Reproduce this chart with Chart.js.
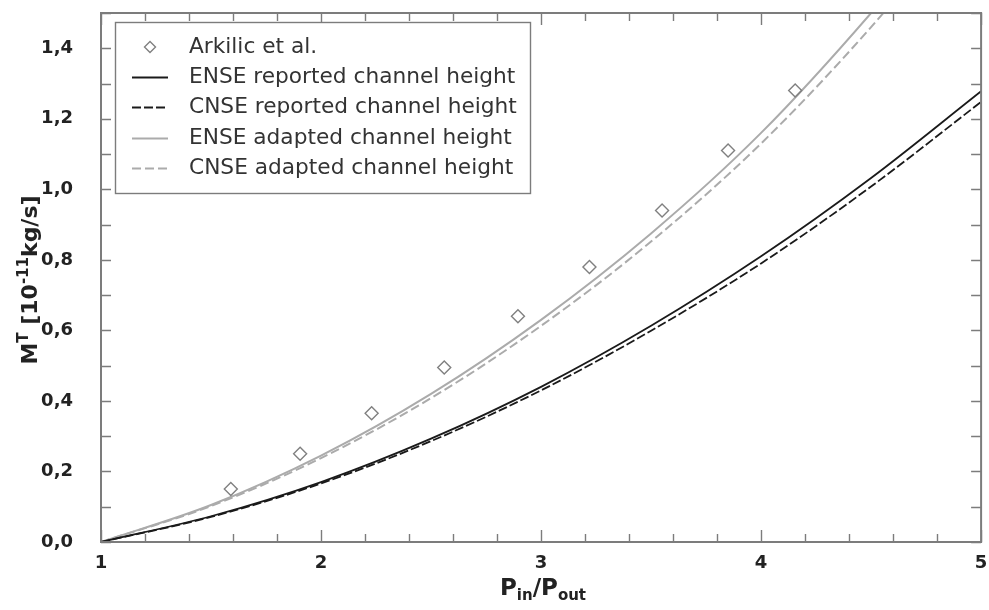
<!DOCTYPE html>
<html>
<head>
<meta charset="utf-8">
<script src="https://cdn.jsdelivr.net/npm/chart.js@4.4.0/dist/chart.umd.min.js"></script>
<style>
  html, body { margin: 0; padding: 0; background: #fff; }
</style>
</head>
<body>
<canvas id="chart" width="989" height="610"></canvas>
<script>
// measured points (Arkilic et al.)
const arkX = [1.59, 1.905, 2.23, 2.56, 2.895, 3.22, 3.55, 3.85, 4.155];
const arkY = [0.15, 0.25, 0.365, 0.495, 0.64, 0.78, 0.94, 1.11, 1.28];

// simulated curves, read off at P_in/P_out
const curveX = [1, 1.5, 2, 2.5, 3, 3.5, 4, 4.5, 5];
const enseReported = [0, 0.073, 0.17, 0.293, 0.44, 0.613, 0.81, 1.032, 1.278];
const cnseReported = [0, 0.071, 0.166, 0.286, 0.43, 0.599, 0.79, 1.008, 1.248];
const enseAdapted = [0, 0.105, 0.245, 0.42, 0.63, 0.875, 1.16, 1.5, 1.88];
const cnseAdapted = [0, 0.102, 0.238, 0.408, 0.613, 0.852, 1.13, 1.46, 1.835];

const labels = [
    "Arkilic et al.",
    "ENSE reported channel height",
    "CNSE reported channel height",
    "ENSE adapted channel height",
    "CNSE adapted channel height",
];

const xTickLabels = [1, 2, 3, 4, 5];
const yTickLabels = [0, 0.2, 0.4, 0.6, 0.8, 1.0, 1.2, 1.4];

function pairs(xs, ys) {
    return xs.map(function (x, i) {
        return { x: x, y: ys[i] };
    });
}

const FONT = "'DejaVu Sans', Verdana, sans-serif";
const FRAME = "#7c7c7c";

function curve(label, values, color, dash) {
    return {
        label: label,
        data: pairs(curveX, values),
        borderColor: color,
        borderWidth: color === "#1a1a1a" ? 1.8 : 2,
        borderDash: dash,
        pointRadius: 0,
        fill: false,
        cubicInterpolationMode: "monotone",
    };
}

const data = {
    datasets: [
        {
            label: labels[0],
            data: pairs(arkX, arkY),
            showLine: false,
            pointStyle: "rectRot",
            pointRadius: 6.5,
            pointBorderWidth: 1.4,
            borderColor: "#808080",
            pointBackgroundColor: "rgba(255,255,255,0)",
        },
        curve(labels[1], enseReported, "#1a1a1a", []),
        curve(labels[2], cnseReported, "#1a1a1a", [9, 3]),
        curve(labels[3], enseAdapted, "#ababab", []),
        curve(labels[4], cnseAdapted, "#ababab", [9, 4]),
    ],
};

function noPadding(s) {
    s.paddingTop = 0;
    s.paddingBottom = 0;
    s.paddingLeft = 0;
    s.paddingRight = 0;
}

// frame with inward ticks on all four sides, plus boxed legend
const framePlugin = {
    id: "frame",
    afterDatasetsDraw: function (chart) {
        const ctx = chart.ctx;
        const a = chart.chartArea;
        const sx = chart.scales.x;
        const sy = chart.scales.y;
        ctx.save();
        ctx.strokeStyle = FRAME;
        ctx.lineWidth = 1.4;
        ctx.beginPath();
        for (let i = 0; i <= 20; i++) {
            const v = 1 + i * 0.2;
            const px = Math.round(sx.getPixelForValue(v)) + 0.5;
            const len = i % 5 === 0 ? 12 : 8;
            ctx.moveTo(px, a.bottom);
            ctx.lineTo(px, a.bottom - len);
            ctx.moveTo(px, a.top);
            ctx.lineTo(px, a.top + len);
        }
        for (let i = 0; i <= 15; i++) {
            const v = i * 0.1;
            const py = Math.round(sy.getPixelForValue(v)) + 0.5;
            ctx.moveTo(a.left, py);
            ctx.lineTo(a.left + 10, py);
            ctx.moveTo(a.right, py);
            ctx.lineTo(a.right - 10, py);
        }
        ctx.stroke();
        ctx.lineWidth = 2;
        ctx.strokeRect(a.left, a.top, a.right - a.left, a.bottom - a.top);

        // legend
        const box = { left: 115.5, top: 22.5, right: 530.5, bottom: 193.5 };
        ctx.fillStyle = "#fff";
        ctx.fillRect(box.left, box.top, box.right - box.left, box.bottom - box.top);
        ctx.lineWidth = 1.4;
        ctx.strokeStyle = FRAME;
        ctx.strokeRect(box.left, box.top, box.right - box.left, box.bottom - box.top);

        const rows = [47, 77, 107, 138, 168];
        chart.data.datasets.forEach(function (ds, i) {
            const y = rows[i];
            if (ds.showLine === false) {
                ctx.strokeStyle = ds.borderColor;
                ctx.fillStyle = "rgba(255,255,255,0)";
                ctx.lineWidth = ds.pointBorderWidth;
                ctx.setLineDash([]);
                Chart.helpers.drawPoint(ctx, {
                    pointStyle: ds.pointStyle,
                    radius: 5.5,
                    rotation: 0,
                    borderWidth: ds.pointBorderWidth,
                }, 150, y);
            } else {
                ctx.strokeStyle = ds.borderColor;
                ctx.lineWidth = ds.borderWidth;
                ctx.setLineDash(ds.borderDash);
                ctx.beginPath();
                ctx.moveTo(132, y + 0.5);
                ctx.lineTo(168, y + 0.5);
                ctx.stroke();
            }
            ctx.setLineDash([]);
            ctx.fillStyle = "#333";
            ctx.font = "21.7px " + FONT;
            ctx.textBaseline = "middle";
            ctx.textAlign = "left";
            ctx.fillText(ds.label, 189, y);
        });
        ctx.restore();
    },
    afterDraw: function (chart) {
        const ctx = chart.ctx;
        ctx.save();
        ctx.fillStyle = "#222";
        ctx.textBaseline = "alphabetic";
        ctx.textAlign = "left";

        function rich(parts, cx, baseY) {
            let total = 0;
            parts.forEach(function (p) {
                ctx.font = p[1];
                total += ctx.measureText(p[0]).width;
            });
            let x = cx - total / 2;
            parts.forEach(function (p) {
                ctx.font = p[1];
                ctx.fillText(p[0], x, baseY + p[2]);
                x += ctx.measureText(p[0]).width;
            });
        }

        const big = "bold 23px " + FONT;
        const small = "bold 15px " + FONT;
        rich([
            ["P", big, 0],
            ["in", small, 5],
            ["/P", big, 0],
            ["out", small, 5],
        ], 543, 595);

        const yBig = "bold 22px " + FONT;
        const ySmall = "bold 15px " + FONT;
        ctx.translate(37, 280);
        ctx.rotate(-Math.PI / 2);
        rich([
            ["M", yBig, 0],
            ["T", ySmall, -9],
            [" [10", yBig, 0],
            ["-11", ySmall, -9],
            ["kg/s]", yBig, 0],
        ], 0, 0);
        ctx.restore();
    },
};

new Chart(document.getElementById("chart"), {
    type: "line",
    data: data,
    options: {
        responsive: false,
        animation: false,
        layout: {
            padding: { top: 13, right: 4, left: 0, bottom: 0 },
        },
        scales: {
            x: {
                type: "linear",
                min: 1,
                max: 5,
                afterFit: function (s) {
                    s.height = 68;
                    noPadding(s);
                },
                afterBuildTicks: function (s) {
                    s.ticks = xTickLabels.map(function (v) { return { value: v }; });
                },
                ticks: {
                    font: { family: FONT, size: 18, weight: "bold" },
                    color: "#222",
                    padding: 11,
                    maxRotation: 0,
                    callback: function (value) { return String(value); },
                },
                grid: { display: false, drawTicks: false },
                border: { display: false },
            },
            y: {
                min: 0,
                max: 1.5,
                afterFit: function (s) {
                    s.width = 101;
                    noPadding(s);
                },
                afterBuildTicks: function (s) {
                    s.ticks = yTickLabels.map(function (v) { return { value: v }; });
                },
                ticks: {
                    font: { family: FONT, size: 18, weight: "bold" },
                    color: "#222",
                    padding: 28,
                    callback: function (value) {
                        return value.toFixed(1).replace(".", ",");
                    },
                },
                grid: { display: false, drawTicks: false },
                border: { display: false },
            },
        },
        plugins: {
            legend: { display: false },
            tooltip: { enabled: false },
        },
    },
    plugins: [framePlugin],
});
</script>
</body>
</html>
